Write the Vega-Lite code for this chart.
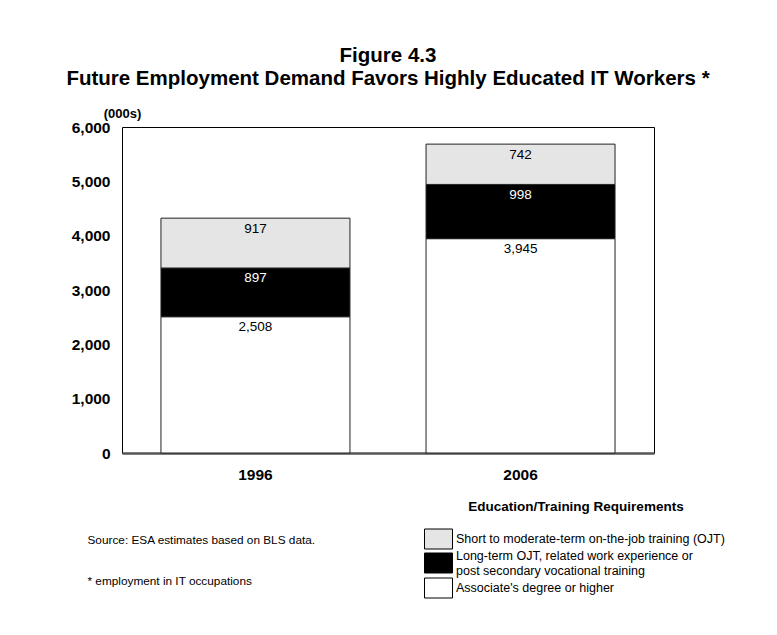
{
  "$schema": "https://vega.github.io/schema/vega-lite/v6.json",
  "width": 532,
  "height": 326,
  "autosize": {"type": "none"},
  "padding": {"left": 122, "top": 127, "right": 123, "bottom": 182},
  "background": "white",
  "title": {
    "text": ["Figure 4.3", "Future Employment Demand Favors Highly Educated IT Workers *"],
    "anchor": "middle",
    "frame": "group",
    "font": "Liberation Sans",
    "fontSize": 20.5,
    "fontWeight": "bold",
    "color": "black",
    "lineHeight": 23,
    "offset": 18
  },
  "data": {
    "values": [
      {"year": "1996", "category": "Associate's degree or higher", "value": 2508},
      {"year": "1996", "category": "Long-term OJT, related work experience or post secondary vocational training", "value": 897},
      {"year": "1996", "category": "Short to moderate-term on-the-job training (OJT)", "value": 917},
      {"year": "2006", "category": "Associate's degree or higher", "value": 3945},
      {"year": "2006", "category": "Long-term OJT, related work experience or post secondary vocational training", "value": 998},
      {"year": "2006", "category": "Short to moderate-term on-the-job training (OJT)", "value": 742}
    ]
  },
  "encoding": {
    "x": {
      "field": "year",
      "type": "nominal",
      "scale": {"paddingInner": 0.287, "paddingOuter": 0.147},
      "axis": {
        "labelAngle": 0,
        "ticks": false,
        "labelPadding": 14,
        "labelFont": "Liberation Sans",
        "labelFontSize": 15.5,
        "labelFontWeight": "bold",
        "labelColor": "black",
        "domainColor": "#555555",
        "domainWidth": 2.5,
        "title": ["Source:  ESA estimates based on BLS data.", "* employment in IT occupations"],
        "titleX": -35,
        "titleY": 81,
        "titleAlign": "left",
        "titleBaseline": "top",
        "titleFont": "Liberation Sans",
        "titleFontSize": 11.8,
        "titleFontWeight": "normal",
        "titleColor": "black",
        "titleLineHeight": 41
      }
    },
    "y": {
      "field": "value",
      "type": "quantitative",
      "stack": "zero",
      "scale": {"domain": [0, 6000], "nice": false},
      "axis": {
        "values": [0, 1000, 2000, 3000, 4000, 5000, 6000],
        "labelExpr": "format(datum.value, ',')",
        "ticks": false,
        "domain": false,
        "grid": false,
        "labelPadding": 12,
        "labelFont": "Liberation Sans",
        "labelFontSize": 15.5,
        "labelFontWeight": "bold",
        "labelColor": "black",
        "title": "(000s)",
        "titleAngle": 0,
        "titleX": 0,
        "titleY": -14,
        "titleAlign": "center",
        "titleBaseline": "middle",
        "titleFont": "Liberation Sans",
        "titleFontSize": 13,
        "titleFontWeight": "bold",
        "titleColor": "black"
      }
    },
    "order": {"field": "category", "type": "nominal", "sort": "ascending"}
  },
  "layer": [
    {
      "mark": {"type": "bar", "stroke": "#222222", "strokeWidth": 1},
      "encoding": {
        "color": {
          "field": "category",
          "type": "nominal",
          "scale": {
            "domain": [
              "Short to moderate-term on-the-job training (OJT)",
              "Long-term OJT, related work experience or post secondary vocational training",
              "Associate's degree or higher"
            ],
            "range": ["#e5e5e5", "#000000", "#ffffff"]
          },
          "legend": {
            "orient": "none",
            "legendX": 306,
            "legendY": 373,
            "title": "Education/Training Requirements",
            "titleFont": "Liberation Sans",
            "titleFontSize": 13.5,
            "titleFontWeight": "bold",
            "titleColor": "black",
            "titleAnchor": "middle",
            "titleLimit": 500,
            "titlePadding": 15,
            "labelFont": "Liberation Sans",
            "labelFontSize": 12.5,
            "labelColor": "black",
            "labelLimit": 400,
            "labelOffset": 7,
            "labelLineHeight": 13,
            "symbolType": "M-1.4,-1H1.4V1H-1.4Z",
            "symbolSize": 400,
            "symbolStrokeColor": "black",
            "symbolStrokeWidth": 1,
            "symbolOpacity": 1,
            "rowPadding": -2,
            "padding": 0,
            "labelExpr": "indexof(datum.label, 'Long-term') == 0 ? ['Long-term OJT, related work experience or', '  post secondary vocational training'] : datum.label",
            "encode": {
              "labels": {
                "update": {
                  "dy": {"signal": "indexof(datum.value, 'Long-term') == 0 ? -7 : 0"}
                }
              }
            }
          }
        }
      }
    },
    {
      "mark": {"type": "text", "baseline": "top", "dy": 3.5, "font": "Liberation Sans", "fontSize": 13.5},
      "encoding": {
        "detail": {"field": "category", "type": "nominal"},
        "text": {"field": "value", "type": "quantitative", "format": ","},
        "color": {
          "condition": {"test": "indexof(datum.category, 'Long-term') == 0", "value": "white"},
          "value": "black"
        }
      }
    }
  ],
  "config": {
    "view": {"stroke": "black", "strokeWidth": 1}
  }
}
